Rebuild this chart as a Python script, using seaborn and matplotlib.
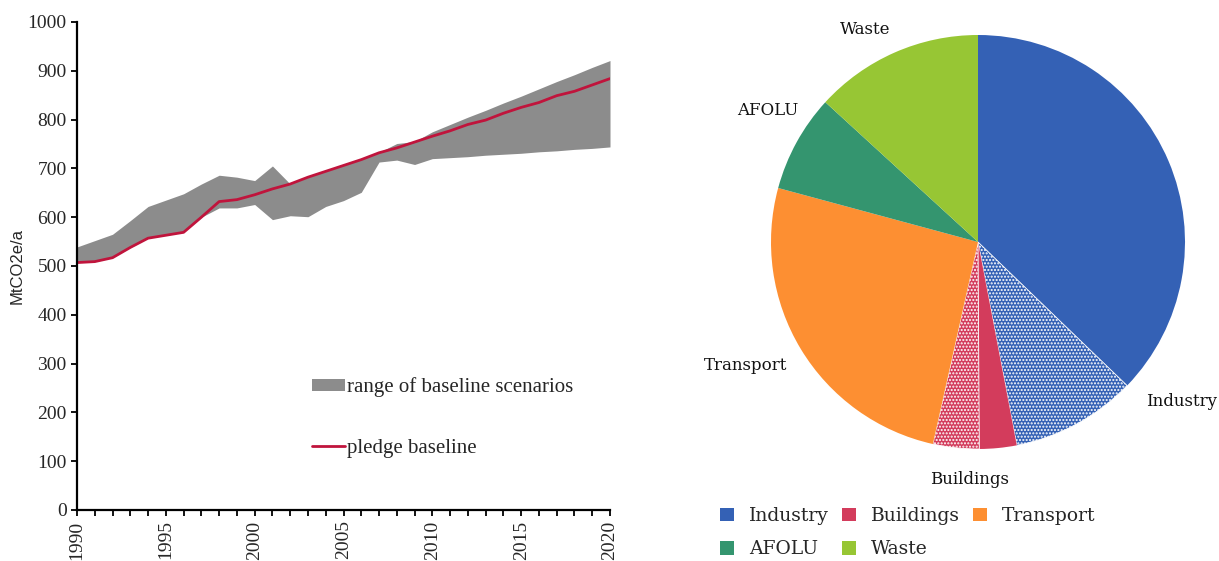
import matplotlib

matplotlib.use("Agg")
import matplotlib.pyplot as plt
import numpy as np
import pandas as pd
import seaborn as sns
from matplotlib.lines import Line2D
from matplotlib.patches import Patch

# ---- left panel data (MtCO2e/a) ----
years = list(range(1990, 2021))
pledge = [507, 509, 517, 538, 557, 563, 569, 600, 632, 636, 646, 658, 668, 682,
          694, 706, 718, 732, 742, 754, 766, 777, 790, 799, 813, 825, 835, 849,
          858, 871, 884]
range_high = [539, 552, 565, 593, 622, 635, 648, 668, 686, 682, 675, 705, 668, 682,
              694, 706, 718, 733, 751, 755, 775, 790, 805, 819, 834, 848, 863, 878,
              892, 907, 921]
range_low = [507, 509, 517, 538, 557, 563, 569, 600, 619, 619, 626, 595, 603, 601,
             622, 634, 651, 713, 717, 708, 720, 722, 724, 727, 729, 731, 734, 736,
             739, 741, 744]

# ---- right panel data (share in %, solid / dotted parts) ----
sectors = ["Industry", "Buildings", "Transport", "AFOLU", "Waste"]
slice_sector = ["Industry", "Industry", "Buildings", "Buildings", "Transport", "AFOLU", "Waste"]
slice_dotted = [False, True, False, True, False, False, False]
slice_share = [37.2, 9.8, 2.9, 3.6, 25.7, 7.6, 13.2]

colors = {
    "Industry": "#3461b5",
    "Buildings": "#d33c5c",
    "Transport": "#fd8f32",
    "AFOLU": "#34956f",
    "Waste": "#97c634",
}
band_color = "#8c8c8c"
line_color = "#c0143c"

sns.set_style("ticks")
plt.rcParams["font.family"] = ["Liberation Serif", "DejaVu Serif"]
plt.rcParams["hatch.linewidth"] = 1.0

df = pd.DataFrame({"year": years, "pledge": pledge, "low": range_low, "high": range_high})

fig = plt.figure(figsize=(12.19, 5.61), dpi=100)

# ---------------- left: baseline range ----------------
ax = fig.add_axes([77 / 1219, 1 - 510 / 561, 533 / 1219, 488 / 561])
ax.fill_between(df["year"], df["low"], df["high"], color=band_color, linewidth=0)
sns.lineplot(data=df, x="year", y="pledge", color=line_color, linewidth=2, ax=ax)

ax.set_xlim(1990, 2020)
ax.set_ylim(0, 1000)
ax.set_xticks(range(1990, 2021, 5))
ax.set_xticks(range(1990, 2021), minor=True)
ax.set_yticks(range(0, 1001, 100))
ax.tick_params(axis="both", which="both", direction="out", length=4, width=1.3,
               color="black", labelsize=14)
ax.tick_params(axis="x", labelrotation=90)
ax.set_xlabel("")
ax.set_ylabel("MtCO2e/a", fontsize=12, family="Liberation Sans", labelpad=2)
for s in ["top", "right"]:
    ax.spines[s].set_visible(False)
for s in ["left", "bottom"]:
    ax.spines[s].set_linewidth(1.6)
    ax.spines[s].set_color("black")

handles = [Patch(facecolor=band_color, edgecolor="none"),
           Line2D([], [], color=line_color, linewidth=2)]
ax.legend(handles, ["range of baseline scenarios", "pledge baseline"],
          loc="upper left", bbox_to_anchor=(0.44, 0.272), frameon=False,
          fontsize=15, handlelength=1.6, handleheight=0.5, handletextpad=0.1,
          labelspacing=2.0, borderpad=0, borderaxespad=0)

# ---------------- right: sector pie ----------------
pax = fig.add_axes([771 / 1219, 1 - 449 / 561, 414 / 1219, 414 / 561])
wedges, _ = pax.pie(slice_share, colors=[colors[s] for s in slice_sector],
                    startangle=90, counterclock=False,
                    wedgeprops=dict(linewidth=0))
for w, dotted in zip(wedges, slice_dotted):
    if dotted:
        w.set_hatch(".....")
        w.set_edgecolor("white")
        w.set_linewidth(0.6)
pax.set_xlim(-1, 1)
pax.set_ylim(-1, 1)
pax.set_aspect("equal")

# label placement: (clockwise angle from top in degrees, distance in radii)
label_pos = {
    "Industry": (128, 1.25),
    "Buildings": (182, 1.15),
    "Transport": (242, 1.27),
    "AFOLU": (302, 1.2),
    "Waste": (332, 1.16),
}
for name, (ang, dist) in label_pos.items():
    t = np.deg2rad(ang)
    pax.text(dist * np.sin(t), dist * np.cos(t), name, ha="center", va="center",
             fontsize=12, family=["DejaVu Serif"], color="#111111")

# legend fills column by column, so order items to read row-wise
ncol = 3
order = [i for c in range(ncol) for i in range(c, len(sectors), ncol)]
leg_handles = [Patch(facecolor=colors[sectors[i]], edgecolor="none") for i in order]
fig.legend(leg_handles, [sectors[i] for i in order], loc="upper left", ncol=ncol,
           bbox_to_anchor=(720 / 1219, 1 - 507 / 561), frameon=False,
           prop={"family": "DejaVu Serif", "size": 13.5},
           handlelength=0.75, handleheight=0.75, handletextpad=0.8,
           columnspacing=0.7, labelspacing=0.82, borderpad=0, borderaxespad=0)

fig.savefig("out.png", dpi=100)
